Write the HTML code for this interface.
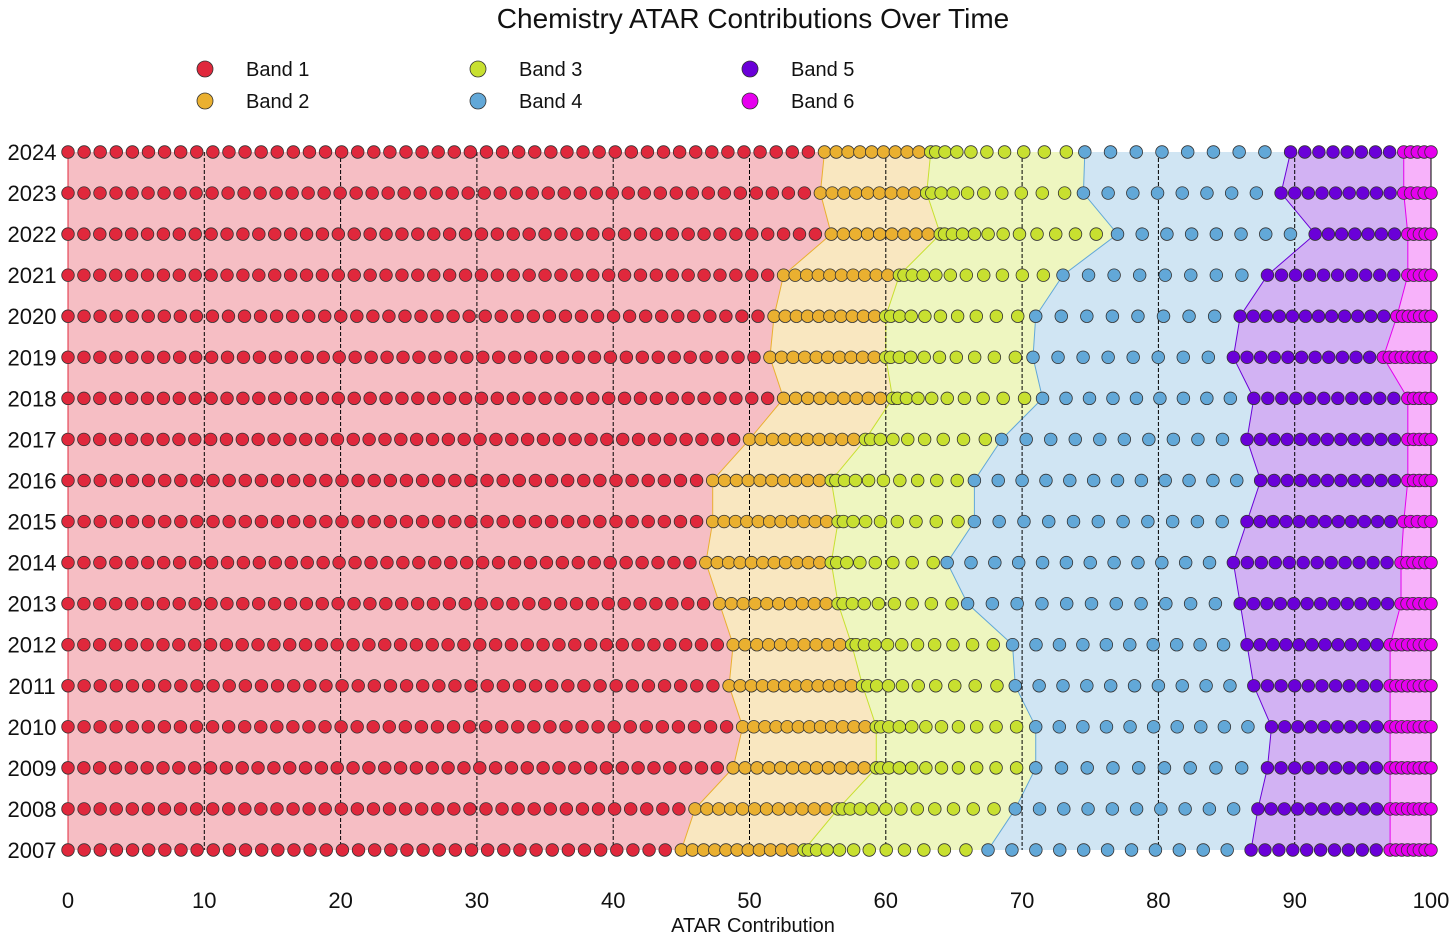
<!DOCTYPE html>
<html><head><meta charset="utf-8"><style>
html,body{margin:0;padding:0;background:#fff;}
svg{display:block;font-family:"Liberation Sans",Arial,sans-serif;}
</style></head><body>
<svg id="chart" width="1456" height="941" viewBox="0 0 1456 941" xmlns="http://www.w3.org/2000/svg">
<text x="753" y="28" font-size="28" text-anchor="middle" fill="#111">Chemistry ATAR Contributions Over Time</text>
<g id="shades"></g>
<g id="grid"></g>
<g id="dots"></g>
<g id="yaxis"></g>
<g id="xaxis"></g>
<text x="753" y="932" font-size="20" text-anchor="middle" fill="#111">ATAR Contribution</text>
<g id="legend"></g>
</svg>
<script>
const years = [2024,2023,2022,2021,2020,2019,2018,2017,2016,2015,2014,2013,2012,2011,2010,2009,2008,2007];
const b12 = [55.5,55.2,56.0,52.5,51.8,51.5,52.5,50.0,47.3,47.3,46.8,47.8,48.8,48.5,49.5,48.8,46.0,45.0];
const b23 = [63.3,63.0,64.0,61.0,60.0,60.0,60.5,58.5,56.0,56.5,56.0,56.5,57.5,58.3,59.3,59.3,56.5,54.0];
const b34 = [74.6,74.5,77.0,73.0,71.0,70.8,71.5,68.5,66.5,66.5,64.5,66.0,69.3,69.5,71.0,71.0,69.5,67.5];
const b45 = [89.7,89.0,91.5,88.0,86.0,85.5,87.0,86.5,87.5,86.5,85.5,86.0,86.5,87.0,88.3,88.0,87.3,86.8];
const b56 = [98.0,98.0,98.3,98.3,97.5,96.5,98.3,98.3,98.3,98.0,97.8,97.8,97.0,97.0,97.0,97.0,97.0,97.0];
const bandNames = ["Band 1","Band 2","Band 3","Band 4","Band 5","Band 6"];
const bandSteps = [1.17,0.85,1.1,1.8,1.0,0.45];
const xTicks = [0,10,20,30,40,50,60,70,80,90,100];

const colors = ["#e0283c","#eab030","#c8e030","#62a8d8","#6a00d8","#e600ee"];
const shadeCols = ["rgba(224,40,60,0.3)","rgba(234,176,48,0.3)","rgba(200,224,48,0.3)","rgba(98,168,216,0.3)","rgba(106,0,216,0.3)","rgba(230,0,238,0.3)"];
const NS="http://www.w3.org/2000/svg";
const X = v => 68 + v*13.63;
const Y = i => 152 + i*(850-152)/(years.length-1);
function mk(tag,attrs,parent){const e=document.createElementNS(NS,tag);for(const k in attrs)e.setAttribute(k,attrs[k]);parent.appendChild(e);return e;}
const zero = years.map(()=>0), hundred = years.map(()=>100);
const bounds = [zero,b12,b23,b34,b45,b56,hundred];

const gS=document.getElementById('shades');
for(let b=0;b<6;b++){
  const lo=bounds[b], hi=bounds[b+1];
  let pts=[];
  for(let i=0;i<years.length;i++) pts.push(X(lo[i])+","+Y(i));
  for(let i=years.length-1;i>=0;i--) pts.push(X(hi[i])+","+Y(i));
  const p=mk('polygon',{points:pts.join(' '),fill:shadeCols[b],stroke:'none'},gS);
  
  
  const l=mk('polyline',{points:years.map((y,i)=>X(hi[i])+","+Y(i)).join(' '),fill:'none',stroke:colors[Math.min(b+1,5)],'stroke-width':1},gS);
  
  
}
const l0=mk('line',{x1:X(0),x2:X(0),y1:Y(0),y2:Y(years.length-1),stroke:colors[0],'stroke-width':1},gS);



const gG=document.getElementById('grid');
for(const t of xTicks){ if(t===0) continue;
  const g=mk('line',{x1:X(t),x2:X(t),y1:Y(0),y2:Y(years.length-1),stroke:'#000','stroke-width':1,'stroke-dasharray':t===100?'':'4,2'},gG);
  
  
}

const gD=document.getElementById('dots');
for(let i=0;i<years.length;i++){
  for(let b=0;b<6;b++){
    const lo=bounds[b][i], hi=bounds[b+1][i];
    const n=Math.max(1,Math.round((hi-lo)/bandSteps[b]));
    for(let k=0;k<n;k++){
      let f=k/n;
      if(b===2) f=0.88*Math.pow(k/(n-1||1),1.5);
      const v=lo+f*(hi-lo);
      const c=mk('circle',{cx:X(v),cy:Y(i),r:6.3,fill:colors[b],stroke:'#333','stroke-width':0.8},gD);
      
      
    }
    if(b===5){
      const c=mk('circle',{cx:X(100),cy:Y(i),r:6.3,fill:colors[5],stroke:'#333','stroke-width':0.8},gD);
      
      
    }
  }
}

const gY=document.getElementById('yaxis');
years.forEach((y,i)=>{
  const t=mk('text',{x:32,y:Y(i)+8,'font-size':22,'text-anchor':'middle',fill:'#111'},gY);
  t.textContent=y;
  
  
});
const gX=document.getElementById('xaxis');
xTicks.forEach(v=>{
  const t=mk('text',{x:X(v),y:908,'font-size':22,'text-anchor':'middle',fill:'#111'},gX);
  t.textContent=v;
  
  
});

const gL=document.getElementById('legend');
const lx=[205,205,478,478,750,750], ly=[69,101,69,101,69,101];
bandNames.forEach((n,b)=>{
  const c=mk('circle',{cx:lx[b],cy:ly[b],r:8,fill:colors[b],stroke:'#333','stroke-width':0.8},gL);
  
  
  const t=mk('text',{x:lx[b]+41,y:ly[b]+7,'font-size':20,fill:'#111'},gL);
  t.textContent=n;
  
  
});
</script>
</body></html>
